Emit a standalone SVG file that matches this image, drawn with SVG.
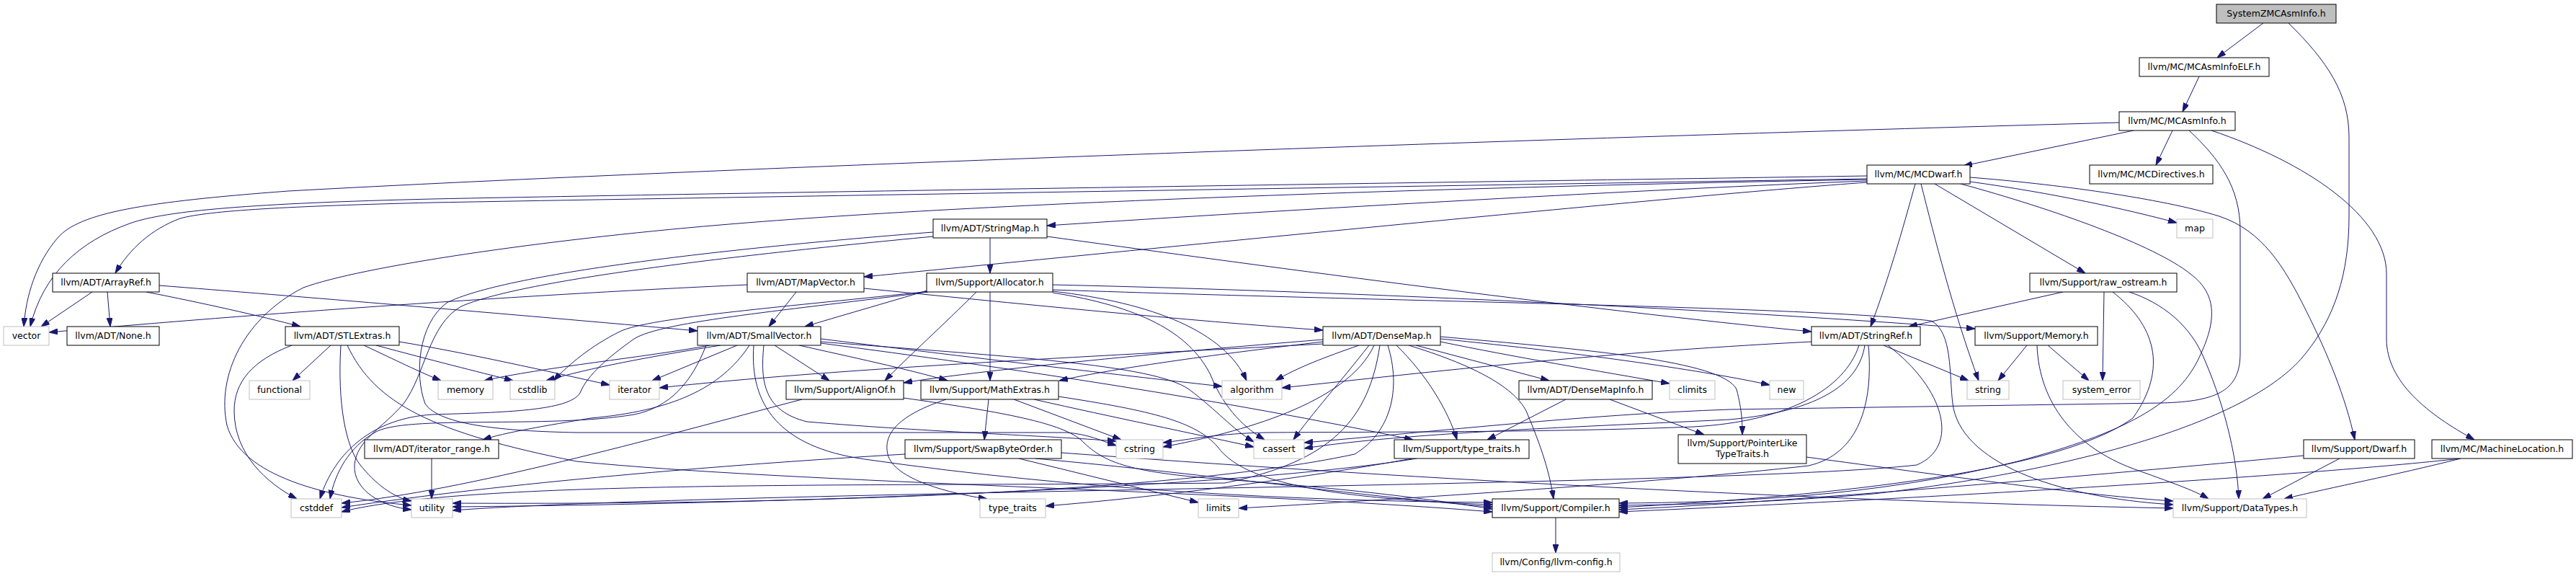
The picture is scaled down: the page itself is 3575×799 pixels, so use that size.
<svg xmlns="http://www.w3.org/2000/svg" width="3575" height="799" viewBox="0 0 3575 799">
<style>
.node rect{fill:#fff;stroke:#000;stroke-width:1}
.sys rect{stroke:#bfbfbf}
.root rect{fill:#bfbfbf}
text{font-family:"DejaVu Sans","Liberation Sans",sans-serif;font-size:12.5px;text-anchor:middle;fill:#000}
#edges path{fill:none;stroke:#191970;stroke-width:1;marker-end:url(#arr)}
</style>
<defs>
<marker id="arr" viewBox="0 0 12 8" refX="12" refY="4" markerWidth="12" markerHeight="8" markerUnits="userSpaceOnUse" orient="auto">
<path d="M0,0L12,4L0,8z" fill="#191970" stroke="#191970" stroke-width="1"/>
</marker>
</defs>
<rect x="0" y="0" width="3575" height="799" fill="#fff"/>
<g id="edges">
<path d="M3141,32 L3077,80"/>
<path d="M3176,32 C3230,85 3260,130 3260,190 L3260,300 C3260,380 3240,440 3200,490 C3130,580 2900,650 2600,685 C2450,698 2330,700 2247,701"/>
<path d="M3052,106 L3029,155"/>
<path d="M2961,181 L2725,230"/>
<path d="M3015,181 L2992,229"/>
<path d="M2941,170 C2200,190 1000,232 400,265 C200,280 110,295 80,330 C50,365 36,410 33,453"/>
<path d="M2591,244 C2000,253 1100,266 600,276 C350,282 230,292 180,310 C110,335 60,380 42,453"/>
<path d="M2591,248 C2000,258 1100,272 600,281 C400,286 290,292 250,303 C210,318 180,345 160,379"/>
<path d="M2591,251 C2300,262 1800,290 1453,313"/>
<path d="M2591,249 C2100,258 1400,278 1000,312 C750,333 500,370 421,399 C340,440 300,520 315,590 C335,660 450,690 571,701"/>
<path d="M2591,253 C2350,270 1700,335 1199,384"/>
<path d="M2658,255 C2640,320 2620,390 2596,453"/>
<path d="M2666,255 C2685,330 2710,430 2746,528"/>
<path d="M2685,255 L2894,379"/>
<path d="M2734,246 C2850,255 3000,275 3080,300 C3140,320 3170,370 3200,430 C3230,490 3255,550 3268,610"/>
<path d="M2734,252 C2850,268 2950,290 3021,309"/>
<path d="M2721,255 C2850,290 2990,340 3040,380 C3080,410 3075,450 3050,500 C3020,560 2950,600 2800,640 C2600,690 2400,697 2247,698"/>
<path d="M3038,181 C3080,220 3109,260 3109,320 L3109,490 C3109,540 3080,557 3000,559 L2400,568 C2200,575 2000,598 1810,614"/>
<path d="M3069,181 C3200,225 3312,300 3312,380 L3312,470 C3312,530 3370,575 3434,610"/>
<path d="M1374,330 L1374,379"/>
<path d="M1453,328 C1700,362 2200,430 2514,460"/>
<path d="M1295,322 C1000,345 700,380 620,420 C580,450 575,520 590,560 C610,590 700,598 800,600 L1480,600 C1510,602 1530,612 1549,618"/>
<path d="M1295,328 C1000,356 720,390 640,425 C595,450 590,520 560,560 C530,595 495,610 492,645 C490,680 530,703 571,707"/>
<path d="M128,405 L57,453"/>
<path d="M149,405 L153,453"/>
<path d="M203,405 C280,420 360,438 417,453"/>
<path d="M221,396 C400,410 700,435 968,459"/>
<path d="M405,479 C350,500 325,530 325,570 C325,630 370,670 412,692"/>
<path d="M459,479 L406,528"/>
<path d="M473,479 C468,560 480,620 500,645 C520,670 545,690 571,695"/>
<path d="M505,479 C550,500 580,515 612,528"/>
<path d="M522,479 C600,500 660,515 712,528"/>
<path d="M554,474 C650,490 760,515 846,534"/>
<path d="M482,479 C520,560 600,600 800,640 C1100,670 1700,680 2071,710"/>
<path d="M985,479 C900,495 750,510 672,528"/>
<path d="M1000,479 C900,495 820,510 758,528"/>
<path d="M1023,479 L905,528"/>
<path d="M1040,479 C1000,540 930,570 820,580 C760,590 700,600 670,610"/>
<path d="M1075,479 L1151,528"/>
<path d="M1109,479 C1180,495 1260,512 1315,528"/>
<path d="M1139,470 C1300,490 1550,520 1696,536"/>
<path d="M1139,474 C1400,495 1600,505 1650,540 C1690,570 1710,595 1740,613"/>
<path d="M1060,479 C1055,530 1060,570 1120,585 C1300,600 1450,604 1549,612"/>
<path d="M980,479 C960,530 930,565 880,575 C760,595 560,575 520,600 C485,620 465,655 458,692"/>
<path d="M1046,479 C1040,560 1080,620 1200,637 C1500,680 1800,695 2071,697"/>
<path d="M1139,476 C1400,510 1700,555 1961,610"/>
<path d="M1290,402 C1230,420 1160,440 1117,453"/>
<path d="M1355,405 C1310,450 1260,495 1228,528"/>
<path d="M1374,405 L1374,528"/>
<path d="M1461,404 C1600,420 1700,460 1730,528"/>
<path d="M1461,406 C1580,425 1650,460 1680,520 C1700,570 1730,595 1755,610"/>
<path d="M1461,395 C1900,405 2400,430 2741,456"/>
<path d="M1290,404 C1100,425 900,440 860,460 C820,480 790,505 768,528"/>
<path d="M1288,405 C1100,430 920,445 880,470 C845,495 815,520 805,545 C790,570 700,572 600,575 C520,580 465,625 444,692"/>
<path d="M1461,402 C2000,420 2500,425 2680,445 C2710,460 2705,520 2710,560 C2720,640 2850,690 3016,700"/>
<path d="M1105,405 L1067,453"/>
<path d="M1199,400 C1400,420 1650,445 1836,458"/>
<path d="M1037,395 C700,410 300,440 68,461"/>
<path d="M2863,405 L2649,453"/>
<path d="M2920,405 L2918,528"/>
<path d="M2932,405 C2990,450 3010,510 2960,580 C2850,660 2500,690 2247,704"/>
<path d="M2955,405 C3000,420 3040,450 3060,500 C3090,570 3105,640 3107,692"/>
<path d="M2813,479 L2773,528"/>
<path d="M2842,479 L2899,528"/>
<path d="M2827,479 C2830,560 2880,620 2960,650 C3010,668 3045,680 3065,692"/>
<path d="M2514,474 C2200,490 1950,520 1779,538"/>
<path d="M2614,479 L2732,528"/>
<path d="M2580,479 C2560,540 2480,585 2350,592 C2150,600 1900,599 1760,600 C1690,601 1650,610 1614,614"/>
<path d="M2588,479 C2580,530 2530,570 2400,582 C2200,592 1950,600 1810,622"/>
<path d="M2593,479 C2600,560 2580,630 2510,646 C2300,670 1900,695 1719,705"/>
<path d="M2620,479 C2700,540 2720,620 2660,645 C2400,675 1000,680 628,708"/>
<path d="M1965,479 L2150,528"/>
<path d="M1999,474 C2100,495 2220,515 2317,532"/>
<path d="M1999,470 C2200,490 2370,515 2456,534"/>
<path d="M1999,467 C2200,485 2390,500 2410,540 C2418,570 2418,590 2418,603"/>
<path d="M1938,479 C1980,520 2010,570 2022,610"/>
<path d="M1955,479 C2040,505 2100,535 2118,570 C2135,610 2150,650 2156,692"/>
<path d="M1886,479 C1840,495 1800,510 1770,528"/>
<path d="M1900,479 C1860,530 1820,575 1795,610"/>
<path d="M1907,479 C1870,560 1720,600 1614,620"/>
<path d="M1836,471 C1600,490 1350,515 1254,531"/>
<path d="M1836,474 C1700,490 1550,510 1470,528"/>
<path d="M1836,477 C1500,495 1150,512 915,538"/>
<path d="M1915,479 C1900,580 1850,640 1700,670 C1200,675 650,665 474,710"/>
<path d="M1926,479 C1945,540 1930,600 1880,630 C1600,690 1000,700 628,698"/>
<path d="M2173,554 L2064,610"/>
<path d="M2234,554 L2365,603"/>
<path d="M1372,554 L1366,610"/>
<path d="M1313,554 C1250,575 1225,600 1232,630 C1240,665 1320,685 1370,692"/>
<path d="M1407,554 L1556,610"/>
<path d="M1435,554 C1550,580 1650,600 1740,620"/>
<path d="M1469,550 C1600,570 1660,585 1690,620 C1720,660 1800,690 2071,700"/>
<path d="M1256,630 C1000,645 700,670 474,704"/>
<path d="M1414,636 L1663,697"/>
<path d="M1437,636 C1700,660 1900,690 2071,703"/>
<path d="M1473,628 C1900,660 2500,695 3016,705"/>
<path d="M1966,636 C1700,680 1000,700 628,703"/>
<path d="M1960,636 C1800,665 1600,690 1451,702"/>
<path d="M2507,634 C2700,660 2900,688 3016,695"/>
<path d="M3197,632 C2900,660 2500,695 2247,707"/>
<path d="M3247,636 L3140,692"/>
<path d="M3415,636 C3200,660 2700,690 2247,710"/>
<path d="M3415,636 C3320,660 3240,675 3170,692"/>
<path d="M2159,718 L2159,767"/>
<path d="M599,636 L599,692"/>
<path d="M1113,554 C900,610 650,680 474,698"/>
<path d="M1254,552 C1380,570 1470,585 1500,610 C1530,640 1560,655 1700,665 C1900,680 2000,695 2071,706"/>
</g>
<g id="n_root" class="node root"><rect x="3076" y="6" width="166" height="26"/><text x="3159" y="23">SystemZMCAsmInfo.h</text></g>
<g id="n_elf" class="node"><rect x="2969" y="80" width="180" height="26"/><text x="3059" y="97">llvm/MC/MCAsmInfoELF.h</text></g>
<g id="n_asm" class="node"><rect x="2941" y="155" width="161" height="26"/><text x="3021.5" y="172">llvm/MC/MCAsmInfo.h</text></g>
<g id="n_dwarf" class="node"><rect x="2591" y="229" width="143" height="26"/><text x="2662.5" y="246">llvm/MC/MCDwarf.h</text></g>
<g id="n_dir" class="node"><rect x="2900" y="229" width="171" height="26"/><text x="2985.5" y="246">llvm/MC/MCDirectives.h</text></g>
<g id="n_smap" class="node"><rect x="1295" y="304" width="158" height="26"/><text x="1374" y="321">llvm/ADT/StringMap.h</text></g>
<g id="n_map" class="node sys"><rect x="3021" y="304" width="50" height="26"/><text x="3046" y="321">map</text></g>
<g id="n_aref" class="node"><rect x="73" y="379" width="148" height="26"/><text x="147" y="396">llvm/ADT/ArrayRef.h</text></g>
<g id="n_mvec" class="node"><rect x="1037" y="379" width="162" height="26"/><text x="1118" y="396">llvm/ADT/MapVector.h</text></g>
<g id="n_alloc" class="node"><rect x="1286" y="379" width="175" height="26"/><text x="1373.5" y="396">llvm/Support/Allocator.h</text></g>
<g id="n_raw" class="node"><rect x="2817" y="379" width="204" height="26"/><text x="2919" y="396">llvm/Support/raw_ostream.h</text></g>
<g id="n_vector" class="node sys"><rect x="5" y="453" width="63" height="26"/><text x="36.5" y="470">vector</text></g>
<g id="n_none" class="node"><rect x="93" y="453" width="128" height="26"/><text x="157" y="470">llvm/ADT/None.h</text></g>
<g id="n_stl" class="node"><rect x="396" y="453" width="158" height="26"/><text x="475" y="470">llvm/ADT/STLExtras.h</text></g>
<g id="n_svec" class="node"><rect x="968" y="453" width="171" height="26"/><text x="1053.5" y="470">llvm/ADT/SmallVector.h</text></g>
<g id="n_dmap" class="node"><rect x="1836" y="453" width="163" height="26"/><text x="1917.5" y="470">llvm/ADT/DenseMap.h</text></g>
<g id="n_sref" class="node"><rect x="2514" y="453" width="151" height="26"/><text x="2589.5" y="470">llvm/ADT/StringRef.h</text></g>
<g id="n_mem" class="node"><rect x="2741" y="453" width="170" height="26"/><text x="2826" y="470">llvm/Support/Memory.h</text></g>
<g id="n_functional" class="node sys"><rect x="346" y="528" width="84" height="26"/><text x="388" y="545">functional</text></g>
<g id="n_memory" class="node sys"><rect x="608" y="528" width="76" height="26"/><text x="646" y="545">memory</text></g>
<g id="n_cstdlib" class="node sys"><rect x="708" y="528" width="62" height="26"/><text x="739" y="545">cstdlib</text></g>
<g id="n_iterator" class="node sys"><rect x="846" y="528" width="69" height="26"/><text x="880.5" y="545">iterator</text></g>
<g id="n_alignof" class="node"><rect x="1091" y="528" width="163" height="26"/><text x="1172.5" y="545">llvm/Support/AlignOf.h</text></g>
<g id="n_mathx" class="node"><rect x="1278" y="528" width="191" height="26"/><text x="1373.5" y="545">llvm/Support/MathExtras.h</text></g>
<g id="n_algorithm" class="node sys"><rect x="1696" y="528" width="83" height="26"/><text x="1737.5" y="545">algorithm</text></g>
<g id="n_dminfo" class="node"><rect x="2108" y="528" width="185" height="26"/><text x="2200.5" y="545">llvm/ADT/DenseMapInfo.h</text></g>
<g id="n_climits" class="node sys"><rect x="2317" y="528" width="63" height="26"/><text x="2348.5" y="545">climits</text></g>
<g id="n_new" class="node sys"><rect x="2456" y="528" width="47" height="26"/><text x="2479.5" y="545">new</text></g>
<g id="n_string" class="node sys"><rect x="2730" y="528" width="58" height="26"/><text x="2759" y="545">string</text></g>
<g id="n_syserr" class="node sys"><rect x="2863" y="528" width="107" height="26"/><text x="2916.5" y="545">system_error</text></g>
<g id="n_itrange" class="node"><rect x="506" y="610" width="186" height="26"/><text x="599" y="627">llvm/ADT/iterator_range.h</text></g>
<g id="n_swap" class="node"><rect x="1256" y="610" width="217" height="26"/><text x="1364.5" y="627">llvm/Support/SwapByteOrder.h</text></g>
<g id="n_cstring" class="node sys"><rect x="1549" y="610" width="65" height="26"/><text x="1581.5" y="627">cstring</text></g>
<g id="n_cassert" class="node sys"><rect x="1740" y="610" width="70" height="26"/><text x="1775" y="627">cassert</text></g>
<g id="n_tth" class="node"><rect x="1935" y="610" width="187" height="26"/><text x="2028.5" y="627">llvm/Support/type_traits.h</text></g>
<g id="n_plt" class="node"><rect x="2329" y="603" width="178" height="40"/><text x="2418" y="619">llvm/Support/PointerLike</text><text x="2418" y="634">TypeTraits.h</text></g>
<g id="n_dwarfh" class="node"><rect x="3197" y="610" width="154" height="26"/><text x="3274" y="627">llvm/Support/Dwarf.h</text></g>
<g id="n_mloc" class="node"><rect x="3375" y="610" width="195" height="26"/><text x="3472.5" y="627">llvm/MC/MachineLocation.h</text></g>
<g id="n_cstddef" class="node sys"><rect x="404" y="692" width="70" height="26"/><text x="439" y="709">cstddef</text></g>
<g id="n_utility" class="node sys"><rect x="571" y="692" width="57" height="26"/><text x="599.5" y="709">utility</text></g>
<g id="n_typetraits" class="node sys"><rect x="1360" y="692" width="91" height="26"/><text x="1405.5" y="709">type_traits</text></g>
<g id="n_limits" class="node sys"><rect x="1663" y="692" width="56" height="26"/><text x="1691" y="709">limits</text></g>
<g id="n_compiler" class="node"><rect x="2071" y="692" width="176" height="26"/><text x="2159" y="709">llvm/Support/Compiler.h</text></g>
<g id="n_datatypes" class="node sys"><rect x="3016" y="692" width="185" height="26"/><text x="3108.5" y="709">llvm/Support/DataTypes.h</text></g>
<g id="n_config" class="node sys"><rect x="2071" y="767" width="177" height="26"/><text x="2159.5" y="784">llvm/Config/llvm-config.h</text></g>
</svg>
